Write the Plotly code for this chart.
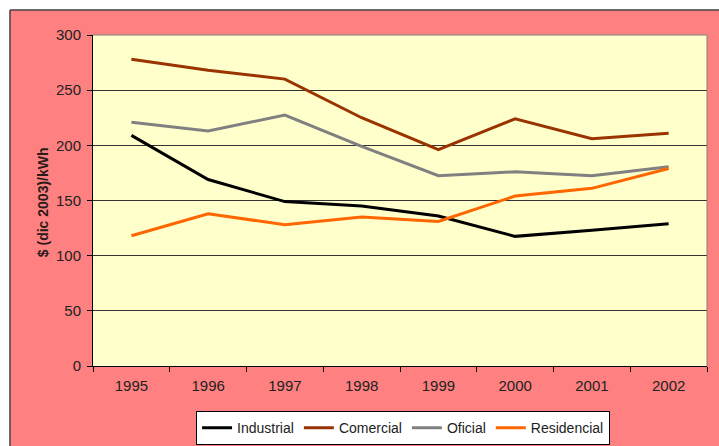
import plotly.graph_objects as go

years = ["1995", "1996", "1997", "1998", "1999", "2000", "2001", "2002"]
industrial = [209, 169, 149, 145, 136, 117.5, 123, 129]
comercial = [278, 268, 260, 225, 196, 224, 206, 211]
oficial = [221, 213, 227.5, 199, 172.5, 176, 172.5, 180.5]
residencial = [118, 138, 128, 135, 131, 154, 161, 179]

series = [
    ("Industrial", industrial, "#000000"),
    ("Comercial", comercial, "#993300"),
    ("Oficial", oficial, "#808080"),
    ("Residencial", residencial, "#FF6600"),
]

fig = go.Figure()
for name, vals, col in series:
    fig.add_trace(go.Scatter(x=years, y=vals, name=name, mode="lines",
                             line=dict(color=col, width=3)))

# outer white strips + dark frame of the chart area
fig.add_shape(type="rect", xref="paper", yref="paper", x0=-0.3, x1=1.2,
              y0=1.0755, y1=1.3, fillcolor="white", line_width=0, layer="above")
fig.add_shape(type="rect", xref="paper", yref="paper", x0=-0.3, x1=-0.1352,
              y0=-0.4, y1=1.3, fillcolor="white", line_width=0, layer="above")
fig.add_shape(type="line", xref="paper", yref="paper", x0=-0.1352, x1=1.2,
              y0=1.0755, y1=1.0755, line=dict(color="#404040", width=1.5))
fig.add_shape(type="line", xref="paper", yref="paper", x0=-0.1352, x1=-0.1352,
              y0=-0.4, y1=1.0755, line=dict(color="#404040", width=1.5))
# gray plot-area frame (top and right)
fig.add_shape(type="line", xref="paper", yref="paper", x0=0, x1=1, y0=1, y1=1,
              line=dict(color="#808080", width=1))
fig.add_shape(type="line", xref="paper", yref="paper", x0=1, x1=1, y0=0, y1=1,
              line=dict(color="#808080", width=1))

fig.add_annotation(text="<b>$ (dic 2003)/kWh</b>", xref="paper", yref="paper",
                   x=-0.0977, y=0.495, textangle=-90, showarrow=False,
                   font=dict(size=14, color="#2a1a1a"))

fig.update_layout(
    width=719, height=446,
    margin=dict(l=93, r=12, t=35, b=80, autoexpand=False),
    paper_bgcolor="#FF8080",
    plot_bgcolor="#FFFFCC",
    font=dict(family="Liberation Sans, Arial, sans-serif", size=15, color="#222222"),
    showlegend=True,
    legend=dict(orientation="h", x=0.505, xanchor="center",
                yref="container", y=0.078, yanchor="top",
                bgcolor="white", bordercolor="black", borderwidth=1,
                font=dict(size=14, color="#222222"), itemwidth=30,
                tracegroupgap=0),
    xaxis=dict(range=[-0.5, 7.5], showgrid=False, showline=True, linecolor="black",
               linewidth=1, ticks="outside", ticklen=5, tickcolor="black",
               tickson="boundaries", zeroline=False, ticklabelstandoff=6),
    yaxis=dict(range=[0, 300], dtick=50, showgrid=True, gridcolor="#333333",
               gridwidth=1, showline=True, linecolor="black", linewidth=1,
               ticks="outside", ticklen=5, tickcolor="black", zeroline=False,
               ticklabelstandoff=3),
)

fig.write_html("out.html", config={"displayModeBar": False},
               post_script="document.body.style.margin='0';"
                           "document.body.style.overflow='hidden';")
